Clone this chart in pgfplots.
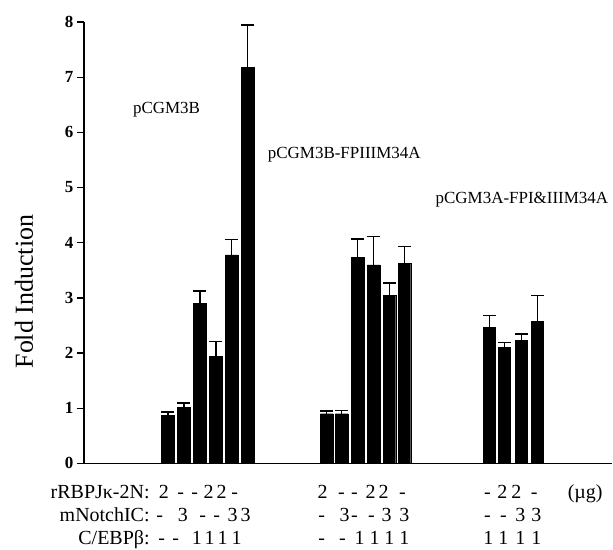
\documentclass[border=0pt]{standalone}
\usepackage{pgfplots}
\pgfplotsset{compat=1.18}
\usepackage{pgfplotstable}
\usepackage{fontspec}
\setmainfont{Liberation Serif}
\pgfplotstableread{
x y e
168 0.87 0.06
184 1.01 0.08
200 2.90 0.22
216 1.94 0.27
232 3.78 0.28
248 7.18 0.76
327 0.90 0.05
342 0.90 0.06
358 3.73 0.34
374 3.60 0.51
390 3.04 0.23
405 3.62 0.31
490 2.46 0.22
505 2.10 0.09
522 2.23 0.12
538 2.57 0.47
}\bars
\newcommand\fs[1]{\fontsize{#1}{#1}\selectfont}
\begin{document}
\begin{tikzpicture}
\begin{axis}[
  at={(0,0)}, anchor=south west,
  scale only axis, width=529pt, height=442pt,
  xmin=84, xmax=613, ymin=0, ymax=8,
  axis x line=bottom, axis y line=left,
  axis line style={-, line width=1.6pt},
  xtick=\empty, ytick={0,1,...,8},
  tick style={line width=1.3pt, black},
  tick align=outside, major tick length=7pt,
  /pgf/number format/assume math mode=true,
  yticklabel style={font=\bfseries\fs{17}},
  clip=false,
]
\addplot[ybar, bar width=12.5pt, fill=black, draw=black,
  error bars/.cd, y dir=plus, y explicit, error mark=|,
  error bar style={line width=1.6pt, black},
  error mark options={line width=1.6pt, mark size=6.5pt, black}]
  table[x=x, y=y, y error=e] {\bars};
\end{axis}
\begin{scope}[x=1pt, y=-1pt, shift={(-84pt,464pt)}]
\path[use as bounding box] (0,0) rectangle (613,550);
\node[rotate=90, font=\fs{26}] at (24,292) {Fold Induction};
\node[anchor=west, inner sep=0pt, font=\fs{17}] at (133,110) {pCGM3B};
\node[anchor=west, inner sep=0pt, font=\fs{17}] at (268,155) {pCGM3B-FPIIIM34A};
\node[anchor=west, inner sep=0pt, font=\fs{17}] at (436,200) {pCGM3A-FPI\&IIIM34A};
\begin{scope}[every node/.style={anchor=base, inner sep=0pt, font=\fs{20}}]
\node[anchor=base east] at (150,499) {rRBPJκ-2N:};
\node[anchor=base east] at (150,522) {mNotchIC:};
\node[anchor=base east] at (150,545) {C/EBPβ:};
% row 1
\foreach \x/\t in {164/2,181/-,195/-,209/2,222/2,235/-,
                   323/2,342/-,355/-,371/2,384/2,403/-,
                   488/-,503/2,517/2,535/-}
  \node at (\x,499) {\t};
\node at (586,499) {(µg)};
% row 2
\foreach \x/\t in {160/-,183/3,203/-,217/-,233/3,246/3,
                   322/-,345/3,355/-,372/-,387/3,405/3,
                   488/-,504/-,521/3,537/3}
  \node at (\x,522) {\t};
% row 3
\foreach \x/\t in {162/-,176/-,197/1,210/1,223/1,237/1,
                   322/-,343/-,360/1,375/1,390/1,405/1,
                   489/1,504/1,521/1,537/1}
  \node at (\x,545) {\t};
\end{scope}
\end{scope}
\end{tikzpicture}
\end{document}
